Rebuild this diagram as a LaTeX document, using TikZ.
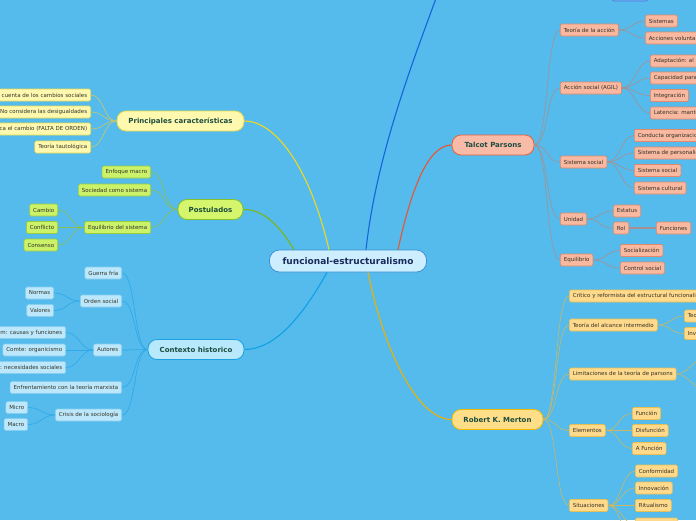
\documentclass[tikz,border=0pt]{standalone}
\usepackage{fontspec}
\setmainfont{DejaVu Sans}
\usetikzlibrary{calc}
\definecolor{bg}{RGB}{84,187,236}
\definecolor{rootf}{HTML}{CDEEFF}\definecolor{rootb}{HTML}{3A8CD0}\definecolor{roott}{HTML}{1A2A5A}
\definecolor{maint}{HTML}{1B4D3E}\definecolor{leaft}{HTML}{333328}
\definecolor{yf}{HTML}{FFF9B0}\definecolor{yb}{HTML}{E8D84A}\definecolor{yline}{HTML}{F0D820}\definecolor{yc}{HTML}{C8C86A}
\definecolor{gf}{HTML}{D4F56C}\definecolor{gb}{HTML}{86C12A}\definecolor{gline}{HTML}{7CB518}\definecolor{glf}{HTML}{CCF26A}\definecolor{glb}{HTML}{9ACD3A}\definecolor{gc}{HTML}{8CBF50}
\definecolor{bf}{HTML}{B8E8FC}\definecolor{bb}{HTML}{1BA0E0}\definecolor{bline}{HTML}{0FA0E6}\definecolor{blf}{HTML}{BDE8FB}\definecolor{blb}{HTML}{86CDEF}\definecolor{bc}{HTML}{2FA8E8}
\definecolor{pf}{HTML}{F8BBA8}\definecolor{pb}{HTML}{E9603A}\definecolor{pline}{HTML}{E8552E}\definecolor{plf}{HTML}{F9B8A0}\definecolor{plb}{HTML}{E48868}\definecolor{pc}{HTML}{A89090}
\definecolor{mf}{HTML}{FFDE8A}\definecolor{mb}{HTML}{F0B800}\definecolor{mline}{HTML}{F0B000}\definecolor{mlf}{HTML}{FFD98C}\definecolor{mlb}{HTML}{E9BF50}\definecolor{mc}{HTML}{C8B868}
\definecolor{topline}{HTML}{1565D8}\definecolor{topf}{HTML}{7AAEF0}\definecolor{topb}{HTML}{3E7FE0}
\tikzset{
  rootnode/.style={draw=rootb, fill=rootf, rounded corners=10pt, minimum width=157pt, minimum height=22pt, inner xsep=0pt, font=\bfseries\fontsize{9}{10}\selectfont, text=roott, line width=0.7pt},
  mainnode/.style={rounded corners=9pt, minimum height=20pt, inner xsep=0pt, font=\bfseries\fontsize{7}{8}\selectfont, text=maint, line width=0.8pt},
  leaf/.style={rounded corners=1.5pt, minimum height=12pt, inner xsep=3.5pt, inner ysep=0pt, font=\fontsize{5.5}{6.5}\selectfont, text=leaft, line width=0.6pt},
  yleaf/.style={leaf, draw=yb, fill=yf},
  gleaf/.style={leaf, draw=glb, fill=glf},
  bleaf/.style={leaf, draw=blb, fill=blf},
  pleaf/.style={leaf, draw=plb, fill=plf},
  mleaf/.style={leaf, draw=mlb, fill=mlf},
  mainline/.style={line width=1.1pt},
  subline/.style={line width=0.6pt},
}
\begin{document}
\begin{tikzpicture}[x=1pt,y=-1pt]
\useasboundingbox (0,0) rectangle (696,520);
\fill[bg] (0,0) rectangle (696,520);
\clip (0,0) rectangle (696,520);

% partial node at top
\node[draw=topb, fill=topf, rounded corners=2pt, minimum width=36pt, minimum height=12pt, line width=0.6pt] (topn) at (630,-5) {};
\coordinate (topend) at (446,-30);

% root
\node[rootnode] (root) at (348,261) {funcional-estructuralismo};

% main branches
\node[mainnode, draw=yb, fill=yf, minimum width=127pt] (prin) at (180.5,121) {Principales características};
\node[mainnode, draw=gb, fill=gf, minimum width=65pt] (post) at (210.5,209.5) {Postulados};
\node[mainnode, draw=bb, fill=bf, minimum width=96pt] (ctx) at (196,349.5) {Contexto historico};
\node[mainnode, draw=pb, fill=pf, minimum width=82pt] (tp) at (493,145) {Talcot Parsons};
\node[mainnode, draw=mb, fill=mf, minimum width=91pt] (rm) at (497.5,419.5) {Robert K. Merton};

% root connectors
\draw[mainline, topline] ($(root.north)+(18,0)$) .. controls +(12,-110) and +(-20,60) .. (topend);
\draw[mainline, yline] ($(root.north)+(-19,0)$) .. controls +(-20,-85) and +(30,0) .. (prin.east);
\draw[mainline, gline] ($(root.north)+(-54,0)$) .. controls +(-15,-25) and +(20,0) .. (post.east);
\draw[mainline, bline] ($(root.south)+(-21,0)$) .. controls +(-25,45) and +(30,0) .. (ctx.east);
\draw[mainline, pline] ($(root.north)+(50,0)$) .. controls +(12,-55) and +(-25,0) .. (tp.west);
\draw[mainline, mline] ($(root.south)+(20,0)$) .. controls +(15,75) and +(-35,0) .. (rm.west);

% Principales caracteristicas
\node[yleaf, anchor=east] (y1) at (91,95) {No da cuenta de los cambios sociales};
\node[yleaf, anchor=east] (y2) at (91,112) {No considera las desigualdades};
\node[yleaf, anchor=east] (y3) at (91,129) {No explica el cambio (FALTA DE ORDEN)};
\node[yleaf, anchor=east] (y4) at (91,147) {Teoría  tautológica};
\foreach \n in {y1,y2,y3,y4}
  \draw[subline, yc] (prin.west) .. controls +(-13,0) and +(13,0) .. (\n.east);

% Postulados
\node[gleaf, anchor=east] (g1) at (151,172) {Enfoque macro};
\node[gleaf, anchor=east] (g2) at (151,190) {Sociedad como sistema};
\node[gleaf, anchor=east] (g3) at (151,227.5) {Equilibrio del sistema};
\node[gleaf, anchor=east] (g31) at (58,210) {Cambio};
\node[gleaf, anchor=east] (g32) at (58,227.5) {Conflicto};
\node[gleaf, anchor=east] (g33) at (58,245) {Consenso};
\foreach \n in {g1,g2,g3}
  \draw[subline, gc] (post.west) .. controls +(-14,0) and +(14,0) .. (\n.east);
\foreach \n in {g31,g32,g33}
  \draw[subline, gc] (g3.west) .. controls +(-13,0) and +(13,0) .. (\n.east);

% Contexto historico
\node[bleaf, anchor=east] (b1) at (122,273) {Guerra fría};
\node[bleaf, anchor=east] (b2) at (122,301) {Orden social};
\node[bleaf, anchor=east] (b21) at (54,293) {Normas};
\node[bleaf, anchor=east] (b22) at (54,310.5) {Valores};
\node[bleaf, anchor=east] (b3) at (122,350) {Autores};
\node[bleaf, anchor=east] (b31) at (66,332.5) {Durkheim: causas y funciones};
\node[bleaf, anchor=east] (b32) at (66,350) {Comte: organicismo};
\node[bleaf, anchor=east] (b33) at (66,367.5) {Spencer: necesidades sociales};
\node[bleaf, anchor=east] (b4) at (122,387.5) {Enfrentamiento con la teoría marxista};
\node[bleaf, anchor=east] (b5) at (122,415) {Crisis de la sociología};
\node[bleaf, anchor=east] (b51) at (28,407.5) {Micro};
\node[bleaf, anchor=east] (b52) at (28,424.5) {Macro};
\foreach \n in {b1,b2,b3,b4,b5}
  \draw[subline, bc] (ctx.west) .. controls +(-14,0) and +(14,0) .. (\n.east);
\foreach \n in {b21,b22}
  \draw[subline, bc] (b2.west) .. controls +(-13,0) and +(13,0) .. (\n.east);
\foreach \n in {b31,b32,b33}
  \draw[subline, bc] (b3.west) .. controls +(-13,0) and +(13,0) .. (\n.east);
\foreach \n in {b51,b52}
  \draw[subline, bc] (b5.west) .. controls +(-13,0) and +(13,0) .. (\n.east);

% Talcot Parsons
\node[pleaf, anchor=west] (p1) at (560,30) {Teoría de la acción};
\node[pleaf, anchor=west] (p11) at (645,21) {Sistemas};
\node[pleaf, anchor=west] (p12) at (645,38) {Acciones voluntarias};
\node[pleaf, anchor=west] (p2) at (560,88) {Acción social (AGIL)};
\node[pleaf, anchor=west] (p21) at (650,61) {Adaptación: al medio};
\node[pleaf, anchor=west] (p22) at (650,78) {Capacidad para alcanzar metas};
\node[pleaf, anchor=west] (p23) at (650,95.5) {Integración};
\node[pleaf, anchor=west] (p24) at (650,113) {Latencia: mantenimiento de patrones};
\node[pleaf, anchor=west] (p3) at (560,162) {Sistema social};
\node[pleaf, anchor=west] (p31) at (634,135.5) {Conducta organizacional};
\node[pleaf, anchor=west] (p32) at (634,153) {Sistema de personalidad};
\node[pleaf, anchor=west] (p33) at (634,170.5) {Sistema social};
\node[pleaf, anchor=west] (p34) at (634,188) {Sistema cultural};
\node[pleaf, anchor=west] (p4) at (560,219) {Unidad};
\node[pleaf, anchor=west] (p41) at (613,211) {Estatus};
\node[pleaf, anchor=west] (p42) at (613,228) {Rol};
\node[pleaf, anchor=west] (p421) at (656,228) {Funciones};
\node[pleaf, anchor=west] (p5) at (560,260) {Equilibrio};
\node[pleaf, anchor=west] (p51) at (620,250.5) {Socialización};
\node[pleaf, anchor=west] (p52) at (620,268) {Control  social};
\foreach \n in {p1,p2,p3,p4,p5}
  \draw[subline, pc] (tp.east) .. controls +(14,0) and +(-14,0) .. (\n.west);
\foreach \n in {p11,p12}
  \draw[subline, pc] (p1.east) .. controls +(13,0) and +(-13,0) .. (\n.west);
\foreach \n in {p21,p22,p23,p24}
  \draw[subline, pc] (p2.east) .. controls +(13,0) and +(-13,0) .. (\n.west);
\foreach \n in {p31,p32,p33,p34}
  \draw[subline, pc] (p3.east) .. controls +(13,0) and +(-13,0) .. (\n.west);
\foreach \n in {p41,p42}
  \draw[subline, pc] (p4.east) .. controls +(13,0) and +(-13,0) .. (\n.west);
\foreach \n in {p51,p52}
  \draw[subline, pc] (p5.east) .. controls +(13,0) and +(-13,0) .. (\n.west);
\draw[pc, line width=1.2pt] (p42.east) -- (p421.west);

% Robert K. Merton
\node[mleaf, anchor=west] (m1) at (569,296) {Crítico y reformista del estructural funcionalismo};
\node[mleaf, anchor=west] (m2) at (569,325) {Teoría del alcance intermedio};
\node[mleaf, anchor=west] (m21) at (684,316) {Teorías de rango medio};
\node[mleaf, anchor=west] (m22) at (684,333.5) {Investigación empírica};
\node[mleaf, anchor=west] (m3) at (569,374) {Limitaciones  de la teoría de parsons};
\coordinate (m31) at (712,352);
\coordinate (m32) at (712,396);
\node[mleaf, anchor=west] (m4) at (569,430.5) {Elementos};
\node[mleaf, anchor=west] (m41) at (632,413.5) {Función};
\node[mleaf, anchor=west] (m42) at (632,430.5) {Disfunción};
\node[mleaf, anchor=west] (m43) at (632,448.5) {A Función};
\node[mleaf, anchor=west] (m5) at (569,505.5) {Situaciones};
\node[mleaf, anchor=west] (m51) at (635,471) {Conformidad};
\node[mleaf, anchor=west] (m52) at (635,488) {Innovación};
\node[mleaf, anchor=west] (m53) at (635,505.5) {Ritualismo};
\node[mleaf, anchor=west] (m54) at (635,524) {Retraimiento};
\coordinate (m55) at (635,541);
\foreach \n in {m1,m2,m3,m4,m5}
  \draw[subline, mc] (rm.east) .. controls +(14,0) and +(-14,0) .. (\n.west);
\foreach \n in {m21,m22}
  \draw[subline, mc] (m2.east) .. controls +(13,0) and +(-13,0) .. (\n.west);
\foreach \n in {m31,m32}
  \draw[subline, mc] (m3.east) .. controls +(13,0) and +(-13,0) .. (\n);
\foreach \n in {m41,m42,m43}
  \draw[subline, mc] (m4.east) .. controls +(13,0) and +(-13,0) .. (\n.west);
\foreach \n in {m51,m52,m53,m54}
  \draw[subline, mc] (m5.east) .. controls +(13,0) and +(-13,0) .. (\n.west);
\draw[subline, mc] (m5.east) .. controls +(13,0) and +(-13,0) .. (m55);
\end{tikzpicture}
\end{document}
